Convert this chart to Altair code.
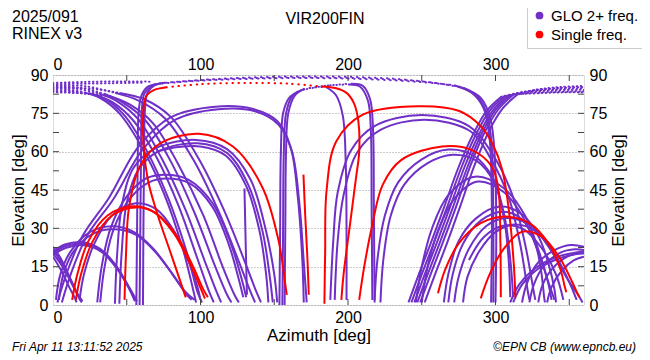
import altair as alt
import pandas as pd

# ---------------- text ----------------
header_left = ["2025/091", "RINEX v3"]
station = ["VIR200FIN"]
footer_left = ["Fri Apr 11 13:11:52 2025"]
footer_right = ["©EPN CB (www.epncb.eu)"]
systems = ["GLO 2+ freq.", "Single freq."]
sys_colors = ["#7030c8", "#ff0000"]

x_label_values = [0, 100, 200, 300]
y_label_values = [0, 15, 30, 45, 60, 75, 90]
x_tick_values = [50, 100, 150, 200, 250, 300, 350]
y_tick_values = [7.5, 15, 22.5, 30, 37.5, 45, 52.5, 60, 67.5, 75, 82.5]

# ---------------- tracks: (azimuth, elevation) ----------------
glo_solid = [
    # low descending lines at the left edge
    [(0, 22.8), (5, 18.5), (10, 12.5), (15, 6), (19, 1.5)],
    [(0, 21.5), (6, 16.5), (12, 10), (17, 4), (20, 1.5)],
    [(0, 20.2), (7, 14.5), (13, 8), (17.5, 3), (19.5, 1)],
    [(0, 18.9), (6, 13), (11, 7), (15, 2.5), (16, 1)],
    # bundle peaking ~24.5 deg
    [(0, 21), (8, 23.7), (20, 24.6), (32, 22), (42, 16), (50, 8.5), (56, 1.5)],
    [(0, 20.3), (8, 23), (20, 24), (32, 21.5), (42, 15.5), (50.5, 8), (57, 1.5)],
    [(0, 19.6), (9, 22.4), (21, 23.4), (33, 20.8), (43, 14.5), (51, 7), (55.5, 1.5)],
    # ~30 deg arcs
    [(2, 2), (5, 12), (12, 21), (25, 28.5), (40, 30.8), (55, 28.5), (68, 22), (80, 13), (90, 5), (96, 2)],
    [(4, 2), (7, 12), (14, 21), (27, 27.8), (41, 29.6), (56, 27.5), (69, 21), (81, 12), (90, 4.5), (94, 2)],
    # ~40 deg arc
    [(18, 2), (21, 12), (28, 24), (40, 35), (56, 39.8), (70, 37.5), (82, 29), (92, 17), (98, 7), (100, 2)],
    # ~51 deg arcs
    [(30, 1), (33, 15), (39, 30), (50, 42.5), (63, 49.5), (76, 51), (92, 49), (108, 40), (120, 25), (128, 10), (131, 3)],
    [(32, 1), (35, 15), (41, 29.5), (52, 41.5), (65, 48), (77, 49.5), (93, 47.5), (108, 38.5), (119, 24), (126, 10), (129, 3)],
    # ~64 deg arcs
    [(42, 0.5), (43.5, 20), (47, 40), (55, 54), (70, 61.5), (97, 64.6), (118, 61), (134, 49), (144, 30), (150, 12), (152, 1)],
    [(45, 0.5), (46.5, 20), (50, 40), (58, 53), (72, 60.3), (98, 63.3), (118, 59.5), (132, 47.5), (142, 29), (147, 11), (149, 1)],
    [(70, 60), (85, 61.8), (100, 62), (117, 58.5), (131, 46.5), (140, 29), (144.5, 12), (146, 1)],
    # ~77 deg arcs
    [(3, 1), (9, 12), (20, 27), (38, 42), (58, 62), (80, 73.5), (110, 77.6), (135, 76.8), (152, 72), (161, 62), (166, 42), (169, 18), (170, 1)],
    [(6, 1), (12, 12), (23, 27), (41, 41.5), (61, 61), (83, 72.5), (112, 76.6), (137, 75.8), (153, 70.5), (162, 60), (167, 40), (170, 17), (172, 1)],
    # near-zenith risers at az ~57-61
    [(56.5, 0), (57, 30), (57.5, 60), (58, 75), (60, 82), (64, 85.3), (70, 86.5)],
    [(58.7, 0), (59.2, 30), (59.7, 60), (60.2, 76), (62, 82.8), (67, 85.7), (73, 86.8)],
    [(61, 0), (61.3, 30), (61.8, 60), (62.3, 76), (64, 83), (69, 86), (76, 87)],
    # descending after the zenith pass (left)
    [(22, 83), (32, 81), (45, 75), (60, 62), (75, 44), (88, 22), (95, 6), (97, 1)],
    [(25, 82.8), (35, 80.8), (48, 74.5), (63, 61), (78, 42), (91, 20), (98, 5), (101, 1)],
    [(28, 82.3), (40, 79.5), (54, 72.5), (70, 58), (85, 39), (98, 18), (106, 5), (109, 1)],
    [(31, 82.8), (44, 79.5), (58, 72.5), (74, 57), (90, 37), (103, 17), (111, 5), (114, 1)],
    [(35, 82.6), (48, 79), (63, 72), (80, 56), (96, 36), (110, 15), (118, 4), (121, 1)],
    [(38, 81.8), (52, 78.5), (68, 71), (85, 55), (102, 35), (115, 15), (123, 4), (126, 1)],
    [(42, 83), (58, 80), (76, 73), (95, 57), (112, 37), (126, 17), (134, 5), (137, 1)],
    [(45, 83), (62, 80.5), (80, 73.5), (99, 57), (116, 37), (130, 17), (138, 5), (141, 1)],
    # short piece
    [(129.8, 45.6), (130.6, 25), (131.5, 4)],
    # up at ~155 towards the top
    [(153.5, 0), (154, 30), (154.5, 60), (156, 75), (160, 81), (166, 83.5)],
    [(155.5, 0), (156, 30), (156.5, 60), (158, 75), (162, 81.5), (168, 84)],
    [(157, 0), (157.5, 30), (158, 60), (159.5, 75), (164, 82), (170, 84.5)],
    # down at ~199 / ~216
    [(185, 85.3), (192, 82), (196.5, 74), (198.5, 55), (199, 30), (199, 2)],
    [(200, 86.3), (208, 85.5), (213.5, 80), (215.5, 68), (216, 40), (216.5, 2)],
    [(203, 86.6), (210, 85.8), (215, 80.5), (217, 68), (217.5, 40), (218, 2)],
    # ~74 deg arcs (right)
    [(188, 2), (190, 25), (193, 44), (202, 60.5), (218, 70), (250, 74.3), (282, 70), (298, 59), (311, 43.7), (320, 24), (326, 5), (327, 2)],
    [(191, 2), (193, 25), (197, 43), (206, 59.5), (222, 68.5), (252, 72.5), (283, 68), (297, 57), (309, 42), (317, 23), (322, 5), (323, 2)],
    # ~60 deg arcs
    [(218, 1), (220, 18), (225, 35), (234, 48), (250, 57), (268, 60.8), (285, 58.5), (298, 50), (306, 35), (310, 18), (312, 3)],
    [(222, 1), (224, 18), (229, 35), (238, 47), (254, 55.5), (271, 58.8), (287, 56.5), (299, 48), (306, 33), (309, 17), (310, 3)],
    # ~50 deg arcs
    [(246, 1), (250, 15), (257, 30), (268, 43), (286, 50.2), (305, 46), (320, 35), (330, 20), (336, 8), (338, 2)],
    [(250, 1), (254, 15), (261, 29), (272, 41.5), (288, 48.3), (306, 44), (320, 33), (330, 19), (337, 7), (340, 2)],
    # ~32-38 deg arcs
    [(265, 1), (268, 12), (275, 25), (287, 34), (303, 38.5), (318, 35.5), (329, 27), (336, 16), (340, 6), (341, 1)],
    [(268, 1), (271, 12), (278, 24), (290, 33), (305, 36.5), (318, 33.5), (327, 24), (331, 13), (333, 3), (333.5, 1)],
    [(272, 1), (275, 11), (282, 22), (294, 31), (308, 34), (324, 31), (338, 21), (349, 10), (356, 4), (359, 1)],
    [(278, 1), (281, 11), (289, 21), (300, 28.5), (313, 31.5), (327, 29), (340, 20), (350, 9), (355, 2)],
    [(282, 17.6), (292, 26.5), (305, 31), (318, 30), (331, 22.5), (341, 12), (346, 2)],
    # low arcs leaving at the right edge
    [(318, 1), (321, 8), (328, 16), (340, 21.5), (351, 23.5), (360, 22.8)],
    [(323, 1), (326, 8), (333, 15.5), (344, 20.5), (354, 21.8), (360, 21.5)],
    [(329, 1), (332, 8), (339, 14.5), (349, 19), (357, 20.2), (360, 20.2)],
    [(335, 1), (338, 7), (345, 13.5), (353, 17.5), (360, 18.9)],
    [(310, 1), (316, 8), (326, 14), (340, 18.5), (352, 20.3), (360, 21)],
    [(312, 1), (318, 8), (328, 13.8), (342, 18), (353, 19.8), (360, 20.3)],
    # steep risers towards the zenith (right)
    [(241, 1), (248, 12), (256, 24), (265, 38), (275, 54), (285, 67), (294, 76), (304, 81.5)],
    [(243, 1), (250, 12), (258, 24), (267, 38), (277, 54), (287, 67), (296, 76), (306, 81.7)],
    [(245, 1), (252, 12), (260, 24), (269, 38), (279, 54), (289, 67), (298, 76), (308, 81.9)],
    [(247, 1), (254, 12), (262, 24), (271, 38), (281, 54), (291, 67.5), (300, 76.3), (310, 82.1)],
    [(249, 1), (256, 12), (264, 24), (273, 38), (283, 54.5), (293, 68), (302, 76.6), (312, 82.3)],
    [(252, 1), (259, 12), (267, 24), (276, 38.5), (286, 55), (296, 68.5), (305, 77), (315, 82.5)],
    # descending after the zenith pass (right, az ~297)
    [(272, 86), (284, 83), (292, 77), (296, 65), (297.5, 40), (297, 1)],
    [(275, 85.5), (287, 82), (294, 75), (297.5, 62), (298.5, 35), (298.5, 1)],
    [(278, 85), (290, 81), (296.5, 73), (299.5, 58), (300.5, 30), (300, 1)],
]

glo_dotted = [
    # near-zenith parts, right of az 300
    [(304, 81.5), (320, 83.5), (340, 84.4), (360, 84.8)],
    [(306, 81.7), (322, 83.3), (341, 84), (360, 84.2)],
    [(308, 81.9), (324, 83), (342, 83.4), (360, 83.6)],
    [(310, 82.1), (326, 84), (343, 84.9), (360, 85.3)],
    [(312, 82.3), (328, 84.3), (344, 85.3), (360, 85.7)],
    [(315, 82.5), (330, 82.9), (345, 83.2), (360, 83.3)],
    # continued at the left edge
    [(0, 84.8), (10, 84.4), (22, 83)],
    [(0, 84.2), (12, 83.8), (25, 82.8)],
    [(0, 83.6), (14, 83.2), (28, 82.3)],
    [(0, 85.3), (16, 84.6), (31, 82.8)],
    [(0, 85.7), (18, 85), (35, 82.6)],
    [(0, 83.3), (20, 82.8), (38, 81.8)],
    [(0, 86), (22, 85.6), (42, 83)],
    [(0, 85), (25, 84.7), (45, 83)],
    [(0, 86.4), (20, 86.6), (40, 86.8), (60, 87)],
    [(0, 86.9), (22, 87.3), (45, 87.5), (66, 87.4)],
]

glo_dotted_sparse = [
    # across the top
    [(70, 86.5), (100, 87.8), (140, 88.6), (180, 88.8), (220, 88.2), (250, 87.2), (272, 86)],
    [(73, 86.8), (105, 88.1), (145, 88.9), (185, 89), (225, 88.4), (255, 87.2), (275, 85.5)],
    [(76, 87), (110, 88.4), (150, 89.3), (190, 89.4), (230, 88.6), (260, 86.8), (278, 85)],
    [(166, 83.5), (175, 85), (185, 85.3)],
    [(168, 84), (185, 85.8), (200, 86.3)],
    [(170, 84.5), (188, 86), (203, 86.6)],
]

single_solid = [
    [(13, 2), (16.5, 12), (24, 25), (37, 35), (54, 38.6), (68, 36.5), (82, 28), (93, 16), (100.5, 6), (103, 2.5)],
    [(15.5, 2), (19, 12), (27, 25), (40, 35), (56, 38.2), (70, 35.8), (84, 27), (95, 15), (102, 6), (105, 3)],
    [(48.5, 2), (49.5, 20), (51.5, 38), (58.7, 54), (72, 63), (99, 67), (122, 62), (142, 46), (153, 25), (157.5, 8), (158.5, 4)],
    [(90, 3), (80, 20), (70, 37), (64, 50), (61, 70), (63, 81.5), (68, 84), (77, 85.2)],
    [(182, 85.5), (192, 84.8), (199, 83), (204, 79), (207, 72), (207.6, 60), (205.5, 50), (201, 30), (197, 12), (195.5, 2)],
    [(184, 0.5), (184.5, 20), (185.5, 45), (192, 64), (210, 74.5), (248, 77.8), (275, 76), (290, 70), (298, 63), (304.5, 53), (309.5, 35), (312.5, 15), (313.5, 3)],
    [(207.6, 2), (211, 15), (216, 30), (223.5, 47), (236, 56.7), (263.6, 62), (284, 60.6), (297.7, 54), (302, 45), (303.3, 25), (303.6, 3)],
    [(261, 4.6), (266, 14), (275, 24), (290, 32), (307, 34.6), (323, 32), (336, 24), (344, 14), (347, 7), (348, 5)],
    [(290, 2.6), (296, 12), (305, 21.5), (318, 28.7), (332, 26.5), (344, 18), (352, 9), (356, 4), (357, 3)],
    [(169.8, 51), (171, 35), (172.5, 18), (173.4, 4)],
]

single_dotted = [
    [(77, 85.2), (100, 86.4), (130, 86.9), (160, 86.6), (182, 85.5)],
]

# ---------------- build table ----------------
rows = []
tid = 0
for name, tracks in [("glo_solid", glo_solid), ("glo_dotted", glo_dotted),
                     ("glo_sparse", glo_dotted_sparse),
                     ("single_solid", single_solid), ("single_dotted", single_dotted)]:
    for tr in tracks:
        for i, (a, e) in enumerate(tr):
            rows.append({"track": tid, "i": i, "az": a, "el": e, "group": name,
                         "sys": systems[0] if name.startswith("glo") else systems[1]})
        tid += 1
df = pd.DataFrame(rows)

W, H = 531, 230
FONT = "Liberation Sans"
xs = alt.Scale(domain=[0, 360], nice=False, zero=False)
ys = alt.Scale(domain=[0, 90], nice=False, zero=False)


def track_layer(group, color, dash=None, xaxis=None, yaxis=None):
    kw = dict(interpolate="catmull-rom", strokeWidth=2, clip=True, color=color)
    if dash:
        kw.update(strokeDash=dash, strokeCap="round", strokeWidth=2)
    return alt.Chart(df).transform_filter(alt.datum.group == group).mark_line(**kw).encode(
        x=alt.X("az:Q", scale=xs, axis=xaxis),
        y=alt.Y("el:Q", scale=ys, axis=yaxis),
        detail="track:N",
        order="i:Q",
    )


axis_common = dict(labelFont=FONT, labelFontSize=16, labelColor="black", titleFont=FONT,
                   titleFontSize=17, titleFontWeight="normal", titleColor="black",
                   ticks=False, domain=False)

x_bottom = alt.Axis(orient="bottom", values=x_label_values, title="Azimuth [deg]", grid=False,
                    labelPadding=4, titlePadding=2, **axis_common)
x_top = alt.Axis(orient="top", values=x_label_values, title=None, grid=False, labelPadding=3, **axis_common)
y_left = alt.Axis(orient="left", values=y_label_values, title="Elevation [deg]", grid=True,
                  gridDash=[1, 2], gridColor="#999999", gridWidth=1, labelPadding=5, titlePadding=3,
                  **axis_common)
y_right = alt.Axis(orient="right", values=y_label_values, title="Elevation [deg]", grid=False,
                   labelPadding=5, titlePadding=4, titleAngle=270, titleBaseline="top", **axis_common)

purple_solid = track_layer("glo_solid", sys_colors[0], xaxis=x_bottom, yaxis=y_left)
purple_dot = track_layer("glo_dotted", sys_colors[0], dash=[0.5, 3.5], xaxis=x_top, yaxis=y_right)
purple_sparse = track_layer("glo_sparse", sys_colors[0], dash=[0.5, 5.5])
red_solid = track_layer("single_solid", sys_colors[1])
red_dot = track_layer("single_dotted", sys_colors[1], dash=[0.5, 5.5])

legend_layer = alt.Chart(df).mark_circle(opacity=0, size=1, clip=True).encode(
    x=alt.X("az:Q", scale=xs, axis=None),
    y=alt.Y("el:Q", scale=ys, axis=None),
    color=alt.Color("sys:N", scale=alt.Scale(domain=systems, range=sys_colors),
                    legend=alt.Legend(title=None, orient="none", legendX=474, legendY=-72,
                                      symbolType="circle", symbolSize=60, symbolOpacity=1,
                                      labelFont=FONT, labelFontSize=15, labelColor="black",
                                      strokeColor="#cccccc", fillColor="white", padding=5,
                                      rowPadding=3, symbolStrokeWidth=0)),
)

# inward tick marks
xt = pd.DataFrame({"v": x_tick_values})
yt = pd.DataFrame({"v": y_tick_values})
tick_col = "#444444"
ticks_bottom = alt.Chart(xt).mark_rule(color=tick_col).encode(
    x=alt.X("v:Q", scale=xs, axis=None), y=alt.value(H), y2=alt.value(H - 6))
ticks_top = alt.Chart(xt).mark_rule(color=tick_col).encode(
    x=alt.X("v:Q", scale=xs, axis=None), y=alt.value(0), y2=alt.value(6))
ticks_left = alt.Chart(yt).mark_rule(color=tick_col).encode(
    y=alt.Y("v:Q", scale=ys, axis=None), x=alt.value(0), x2=alt.value(6))
ticks_right = alt.Chart(yt).mark_rule(color=tick_col).encode(
    y=alt.Y("v:Q", scale=ys, axis=None), x=alt.value(W), x2=alt.value(W - 6))


def text_layer(lst, x, y, align="left", size=16, style="normal"):
    return alt.Chart(pd.DataFrame({"t": lst})).mark_text(
        align=align, baseline="middle", font=FONT, fontSize=size, fontStyle=style, color="black"
    ).encode(text="t:N", x=alt.value(x), y=alt.value(y))


t1 = text_layer([header_left[0]], -41, -58)
t2 = text_layer([header_left[1]], -41, -41)
t3 = text_layer(station, 272, -56, align="center")
t4 = text_layer(footer_left, -41, 272, size=12, style="italic")
t5 = text_layer(footer_right, 583, 272, align="right", size=12, style="italic")

chart = alt.layer(
    purple_solid, purple_dot, purple_sparse, red_solid, red_dot, legend_layer,
    ticks_bottom, ticks_top, ticks_left, ticks_right,
    t1, t2, t3, t4, t5,
).resolve_axis(x="independent", y="independent").resolve_scale(color="independent").properties(
    width=W, height=H,
    autosize=alt.AutoSizeParams(type="none"),
    padding={"left": 45, "top": 67, "right": 58, "bottom": 54},
).configure_view(stroke="#555555", strokeWidth=1.5).configure(background="white")

chart.save("out.html", embed_options={"renderer": "svg", "actions": False})
